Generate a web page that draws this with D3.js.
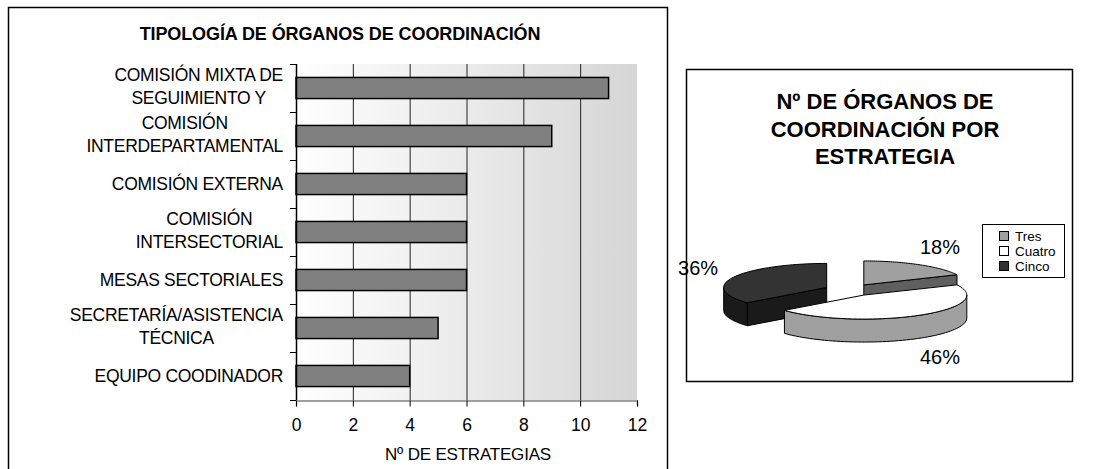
<!DOCTYPE html>
<html>
<head>
<meta charset="utf-8">
<script src="https://cdn.jsdelivr.net/npm/d3@7"></script>
<style>
  body { margin: 0; background: #fff; }
  svg text { font-family: "Liberation Sans", Arial, sans-serif; fill: #000; }
</style>
</head>
<body>
<svg id="chart" width="1106" height="469"></svg>
<script>
// Data
const categories = [
  ["COMISIÓN MIXTA DE", "SEGUIMIENTO Y"],
  ["COMISIÓN", "INTERDEPARTAMENTAL"],
  ["COMISIÓN EXTERNA"],
  ["COMISIÓN", "INTERSECTORIAL"],
  ["MESAS SECTORIALES"],
  ["SECRETARÍA/ASISTENCIA", "TÉCNICA"],
  ["EQUIPO COODINADOR"]
];
const strategies = [11, 9, 6, 6, 6, 5, 4];
const xTicks = [0, 2, 4, 6, 8, 10, 12];

const pieLabels = ["Tres", "Cuatro", "Cinco"];
const pieValues = [18, 46, 36];

const svg = d3.select("#chart");

// ---------- Left panel: bar chart ----------
svg.append("rect")
  .attr("x", 8.5).attr("y", 7.5)
  .attr("width", 659).attr("height", 480)
  .attr("fill", "#fff").attr("stroke", "#000").attr("stroke-width", 1.5);

svg.append("text")
  .attr("x", 340).attr("y", 40)
  .attr("text-anchor", "middle")
  .style("font-size", "18px").style("font-weight", "bold")
  .style("letter-spacing", "-0.1px")
  .text("TIPOLOGÍA DE ÓRGANOS DE COORDINACIÓN");

const plot = { left: 296, right: 637, top: 64, bottom: 400 };

const x = d3.scaleLinear().domain([0, 12]).range([plot.left, plot.right]);
const y = d3.scaleBand()
  .domain(d3.range(categories.length))
  .range([plot.top, plot.bottom])
  .paddingInner(0.56).paddingOuter(0.28);

// plot background gradient (white -> light gray)
const grad = svg.append("defs").append("linearGradient")
  .attr("id", "bg").attr("x1", 0).attr("x2", 1).attr("y1", 0).attr("y2", 0);
grad.append("stop").attr("offset", "0%").attr("stop-color", "#ffffff");
grad.append("stop").attr("offset", "100%").attr("stop-color", "#d6d6d6");

svg.append("rect")
  .attr("x", plot.left).attr("y", plot.top)
  .attr("width", plot.right - plot.left).attr("height", plot.bottom - plot.top)
  .attr("fill", "url(#bg)");

// vertical gridlines
svg.append("g")
  .selectAll("line")
  .data(xTicks.slice(1, -1))
  .join("line")
  .attr("x1", d => x(d) + 0.5).attr("x2", d => x(d) + 0.5)
  .attr("y1", plot.top).attr("y2", plot.bottom)
  .attr("stroke", "#222").attr("stroke-width", 1);

// bars
svg.append("g")
  .selectAll("rect")
  .data(strategies)
  .join("rect")
  .attr("x", x(0))
  .attr("y", (d, i) => y(i))
  .attr("width", d => x(d) - x(0))
  .attr("height", y.bandwidth())
  .attr("fill", "#808080")
  .attr("stroke", "#000").attr("stroke-width", 1.5);

// x axis
const xAxis = svg.append("g")
  .attr("transform", `translate(0, ${plot.bottom + 0.5})`)
  .call(d3.axisBottom(x).tickValues(xTicks).tickSize(6).tickPadding(12));
xAxis.select(".domain").attr("stroke", "#808080").attr("stroke-width", 1.5);
xAxis.selectAll(".tick line").attr("stroke", "#000");
xAxis.selectAll(".tick text")
  .style("font-size", "17.5px")
  .attr("font-family", null);

// y axis: line + ticks on band boundaries
svg.append("line")
  .attr("x1", plot.left + 0.5).attr("x2", plot.left + 0.5)
  .attr("y1", plot.top).attr("y2", plot.bottom)
  .attr("stroke", "#000").attr("stroke-width", 1.5);
const bounds = d3.range(categories.length + 1).map(i => plot.top + i * y.step());
svg.append("g")
  .selectAll("line")
  .data(bounds)
  .join("line")
  .attr("x1", plot.left - 6).attr("x2", plot.left)
  .attr("y1", d => d + 0.5).attr("y2", d => d + 0.5)
  .attr("stroke", "#000").attr("stroke-width", 1);

// category labels, lines centred on each other, block right aligned
const labelRight = 283;
const lineGap = 23;
categories.forEach((lines, i) => {
  const g = svg.append("g");
  const texts = lines.map(l => g.append("text")
    .style("font-size", "17.5px")
    .style("letter-spacing", "-0.3px")
    .attr("text-anchor", "middle")
    .text(l));
  const widths = texts.map(t => t.node().getComputedTextLength());
  const maxW = d3.max(widths);
  const cy = y(i) + y.bandwidth() / 2 - (lines.length > 1 ? 2 : 0);
  texts.forEach((t, j) => {
    t.attr("x", labelRight - maxW / 2)
     .attr("y", cy + (j - (lines.length - 1) / 2) * lineGap)
     .attr("dy", "0.36em");
  });
});

svg.append("text")
  .attr("x", 468).attr("y", 460)
  .attr("text-anchor", "middle")
  .style("font-size", "17px")
  .style("letter-spacing", "-0.2px")
  .text("Nº DE ESTRATEGIAS");

// ---------- Right panel: 3D exploded pie ----------
const panel = { left: 686, top: 69, right: 1072, bottom: 381 };
svg.append("rect")
  .attr("x", panel.left + 0.5).attr("y", panel.top + 0.5)
  .attr("width", panel.right - panel.left).attr("height", panel.bottom - panel.top)
  .attr("fill", "#fff").attr("stroke", "#000").attr("stroke-width", 1.5);

const pieTitle = ["Nº DE ÓRGANOS DE", "COORDINACIÓN POR", "ESTRATEGIA"];
svg.append("g")
  .selectAll("text")
  .data(pieTitle)
  .join("text")
  .attr("x", 885)
  .attr("y", (d, i) => 109 + i * 27.5)
  .attr("text-anchor", "middle")
  .style("font-size", "22px").style("font-weight", "bold")
  .text(d => d);

// projection of the tilted pie
const cx = 850, cy = 290, rx = 103, ry = 24, depth = 23, explode = 0.25;
const topColor = ["#a0a0a0", "#ffffff", "#333333"];
const sideColor = ["#5f5f5f", "#a0a0a0", "#1a1a1a"];

const pie = d3.pie().sort(null).value(d => d)(pieValues);

function proj(vx, vy, a, r) {
  return [vx + rx * r * Math.sin(a), vy - ry * r * Math.cos(a)];
}
function arcPts(vx, vy, a0, a1, dy) {
  const n = 60, pts = [];
  for (let k = 0; k <= n; k++) {
    const p = proj(vx, vy, a0 + (a1 - a0) * k / n, 1);
    pts.push([p[0], p[1] + dy]);
  }
  return pts;
}
const line = d3.line();

const slices = pie.map((d, i) => {
  const mid = (d.startAngle + d.endAngle) / 2;
  const v = proj(cx, cy, mid, explode);
  return { i, a0: d.startAngle, a1: d.endAngle, mid, vx: v[0], vy: v[1], d };
});

// back slices first, the front one (Cuatro) last
const order = [0, 2, 1];
const pieG = svg.append("g").attr("stroke", "#000").attr("stroke-width", 1).attr("stroke-linejoin", "round");

order.forEach(idx => {
  const s = slices[idx];
  // radial cut faces that face the viewer
  [[s.a0, s.a0 - Math.PI / 2], [s.a1, s.a1 + Math.PI / 2]].forEach(([a, n]) => {
    if (Math.cos(n) < -0.01) {
      const p = proj(s.vx, s.vy, a, 1);
      pieG.append("path")
        .attr("d", line([[s.vx, s.vy], p, [p[0], p[1] + depth], [s.vx, s.vy + depth]]) + "Z")
        .attr("fill", sideColor[idx]);
    }
  });
  // outer wall, visible on the front half only
  const b0 = Math.max(s.a0, Math.PI / 2), b1 = Math.min(s.a1, 3 * Math.PI / 2);
  if (b1 > b0) {
    const topPts = arcPts(s.vx, s.vy, b0, b1, 0);
    const botPts = arcPts(s.vx, s.vy, b0, b1, depth).reverse();
    pieG.append("path")
      .attr("d", line(topPts.concat(botPts)) + "Z")
      .attr("fill", sideColor[idx]);
  }
  // top face
  pieG.append("path")
    .attr("d", line([[s.vx, s.vy]].concat(arcPts(s.vx, s.vy, s.a0, s.a1, 0))) + "Z")
    .attr("fill", topColor[idx]);
});

// percentage labels
svg.append("g")
  .selectAll("text")
  .data(slices)
  .join("text")
  .attr("x", s => cx + rx * 1.63 * Math.sin(s.mid))
  .attr("y", s => cy - ry * 2.15 * Math.cos(s.mid) + (Math.cos(s.mid) < 0 ? depth : 0))
  .attr("dy", "0.36em")
  .attr("text-anchor", "middle")
  .style("font-size", "20px")
  .text(s => d3.format(".0%")(s.d.value / d3.sum(pieValues)));

// legend
const legend = svg.append("g");
legend.append("rect")
  .attr("x", 982.5).attr("y", 224.5)
  .attr("width", 82).attr("height", 53)
  .attr("fill", "#fff").attr("stroke", "#000").attr("stroke-width", 1);
pieLabels.forEach((name, i) => {
  legend.append("rect")
    .attr("x", 999.5).attr("y", 231.5 + i * 15)
    .attr("width", 9).attr("height", 9)
    .attr("fill", topColor[i]).attr("stroke", "#000").attr("stroke-width", 1);
  legend.append("text")
    .attr("x", 1015).attr("y", 236 + i * 15)
    .attr("dy", "0.36em")
    .style("font-size", "13.5px")
    .text(name);
});
</script>
</body>
</html>
